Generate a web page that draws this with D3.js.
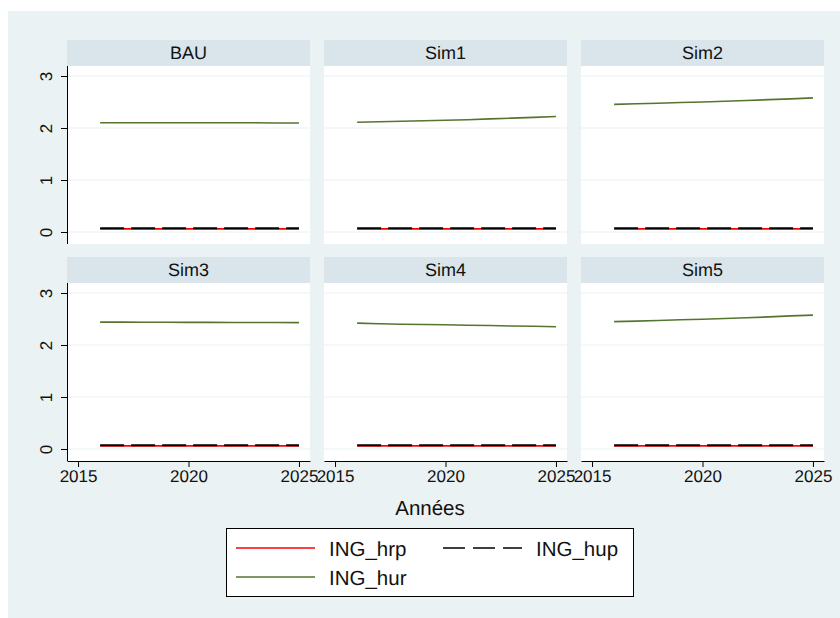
<!DOCTYPE html>
<html>
<head>
<meta charset="utf-8">
<script src="https://cdn.jsdelivr.net/npm/d3@7"></script>
<style>
  html, body { margin: 0; padding: 0; background: #ffffff; }
  svg { display: block; font-family: "Liberation Sans", Arial, Helvetica, sans-serif; text-rendering: geometricPrecision; }
  text { font-weight: 400; }
</style>
</head>
<body>
<script>
// ---- data ----
const years = [2016, 2017, 2018, 2019, 2020, 2021, 2022, 2023, 2024, 2025];
const panels = ["BAU", "Sim1", "Sim2", "Sim3", "Sim4", "Sim5"];
const seriesNames = ["ING_hrp", "ING_hup", "ING_hur"];
const hrp = {
  BAU:  [0.06, 0.06, 0.06, 0.06, 0.06, 0.06, 0.06, 0.06, 0.06, 0.06],
  Sim1: [0.06, 0.06, 0.06, 0.06, 0.06, 0.06, 0.06, 0.06, 0.06, 0.06],
  Sim2: [0.06, 0.06, 0.06, 0.06, 0.06, 0.06, 0.06, 0.06, 0.06, 0.06],
  Sim3: [0.06, 0.06, 0.06, 0.06, 0.06, 0.06, 0.06, 0.06, 0.06, 0.06],
  Sim4: [0.06, 0.06, 0.06, 0.06, 0.06, 0.06, 0.06, 0.06, 0.06, 0.06],
  Sim5: [0.06, 0.06, 0.06, 0.06, 0.06, 0.06, 0.06, 0.06, 0.06, 0.06]
};
const hup = {
  BAU:  [0.07, 0.07, 0.07, 0.07, 0.07, 0.07, 0.07, 0.07, 0.07, 0.07],
  Sim1: [0.07, 0.07, 0.07, 0.07, 0.07, 0.07, 0.07, 0.07, 0.07, 0.07],
  Sim2: [0.07, 0.07, 0.07, 0.07, 0.07, 0.07, 0.07, 0.07, 0.07, 0.07],
  Sim3: [0.07, 0.07, 0.07, 0.07, 0.07, 0.07, 0.07, 0.07, 0.07, 0.07],
  Sim4: [0.07, 0.07, 0.07, 0.07, 0.07, 0.07, 0.07, 0.07, 0.07, 0.07],
  Sim5: [0.07, 0.07, 0.07, 0.07, 0.07, 0.07, 0.07, 0.07, 0.07, 0.07]
};
const hur = {
  BAU:  [2.10, 2.10, 2.10, 2.10, 2.10, 2.10, 2.10, 2.10, 2.095, 2.095],
  Sim1: [2.11, 2.12, 2.13, 2.14, 2.15, 2.16, 2.175, 2.19, 2.205, 2.22],
  Sim2: [2.455, 2.465, 2.475, 2.49, 2.50, 2.515, 2.53, 2.545, 2.56, 2.58],
  Sim3: [2.44, 2.44, 2.438, 2.437, 2.436, 2.435, 2.434, 2.433, 2.432, 2.43],
  Sim4: [2.42, 2.41, 2.40, 2.395, 2.39, 2.38, 2.375, 2.365, 2.36, 2.35],
  Sim5: [2.45, 2.46, 2.47, 2.485, 2.495, 2.51, 2.525, 2.54, 2.56, 2.575]
};
const yTicks = [0, 1, 2, 3];
const xTicks = [2015, 2020, 2025];
const xTitle = "Années";

// ---- layout ----
const W = 840, H = 618;
const colX = [67, 324, 581];
const rowHeaderY = [40, 257];
const panelW = 243, headerH = 26, plotH = 178;

const svg = d3.select("body").append("svg").attr("width", W).attr("height", H);
svg.append("rect").attr("x", 8).attr("y", 11).attr("width", W - 8).attr("height", H - 11).attr("fill", "#eaf2f3");

const x = d3.scaleLinear().domain([2014.5, 2025.5]).range([0, panelW]);
const y = d3.scaleLinear().domain([-12 / 52, 3 + 10 / 52]).range([plotH, 0]);

const seriesStyle = [
  { data: hrp, color: "#ff0000", width: 1.6, dash: null },
  { data: hup, color: "#000000", width: 2.0, dash: "24,7" },
  { data: hur, color: "#55752f", width: 1.6, dash: null }
];

panels.forEach((p, i) => {
  const col = i % 3, row = Math.floor(i / 3);
  const gx = colX[col], hy = rowHeaderY[row], py = hy + headerH;
  const g = svg.append("g");
  // header
  g.append("rect").attr("x", gx).attr("y", hy).attr("width", panelW).attr("height", headerH).attr("fill", "#d9e5eb");
  g.append("text").attr("x", gx + panelW / 2).attr("y", hy + 19).attr("text-anchor", "middle")
    .attr("font-size", 18).attr("fill", "#111").text(p);
  // plot area
  const pg = g.append("g").attr("transform", `translate(${gx},${py})`);
  pg.append("rect").attr("width", panelW).attr("height", plotH).attr("fill", "#ffffff");
  yTicks.forEach(t => {
    pg.append("line").attr("x1", 0).attr("x2", panelW).attr("y1", y(t)).attr("y2", y(t))
      .attr("stroke", "#eaf2f3").attr("stroke-width", 1.2);
  });
  // lines
  const line = d3.line().x((d, k) => x(years[k])).y(d => y(d));
  seriesStyle.forEach(s => {
    pg.append("path").datum(s.data[p]).attr("d", line).attr("fill", "none")
      .attr("stroke", s.color).attr("stroke-width", s.width)
      .attr("stroke-dasharray", s.dash);
  });
  // y axis on first column only
  if (col === 0) {
    const ya = pg.append("g").call(d3.axisLeft(y).tickValues(yTicks).tickSize(6).tickSizeOuter(0).tickFormat(d3.format("d")));
    ya.select(".domain").attr("stroke", "#000").attr("d", `M0.5,0V${plotH}`);
    ya.selectAll(".tick line").attr("stroke", "#000");
    ya.selectAll(".tick text").attr("font-size", 17).attr("font-family", "Liberation Sans, Arial, sans-serif")
      .attr("fill", "#111").attr("x", null).attr("dy", null).attr("text-anchor", "middle")
      .attr("transform", "translate(-15,0) rotate(-90)");
  }
  // x axis on bottom row
  if (row === 1) {
    const xa = pg.append("g").attr("transform", `translate(0,${plotH})`)
      .call(d3.axisBottom(x).tickValues(xTicks).tickSize(6).tickSizeOuter(0).tickFormat(d3.format("d")));
    xa.select(".domain").attr("stroke", "#000");
    xa.selectAll(".tick line").attr("stroke", "#000");
    xa.selectAll(".tick text").attr("font-size", 17).attr("font-family", "Liberation Sans, Arial, sans-serif")
      .attr("fill", "#111").attr("y", 9).attr("dy", "0.71em");
  }
});

// axis title
svg.append("text").attr("x", 430).attr("y", 515).attr("text-anchor", "middle").attr("font-size", 20.5).attr("fill", "#111").text(xTitle);

// legend
const lg = svg.append("g");
lg.append("rect").attr("x", 226.5).attr("y", 528.5).attr("width", 407).attr("height", 68)
  .attr("fill", "#ffffff").attr("stroke", "#000").attr("stroke-width", 1);
const legendPos = [
  { lx: 236, ly: 548, tx: 329 },
  { lx: 443, ly: 548, tx: 536 },
  { lx: 236, ly: 577, tx: 329 }
];
seriesNames.forEach((n, k) => {
  const s = seriesStyle[k], pos = legendPos[k];
  lg.append("line").attr("x1", pos.lx).attr("x2", pos.lx + 79).attr("y1", pos.ly).attr("y2", pos.ly)
    .attr("stroke", s.color).attr("stroke-width", 1.5).attr("stroke-dasharray", s.dash ? "22,8" : null);
  lg.append("text").attr("x", pos.tx).attr("y", pos.ly + 7.5).attr("font-size", 20.5).attr("fill", "#111").text(n);
});
</script>
</body>
</html>
